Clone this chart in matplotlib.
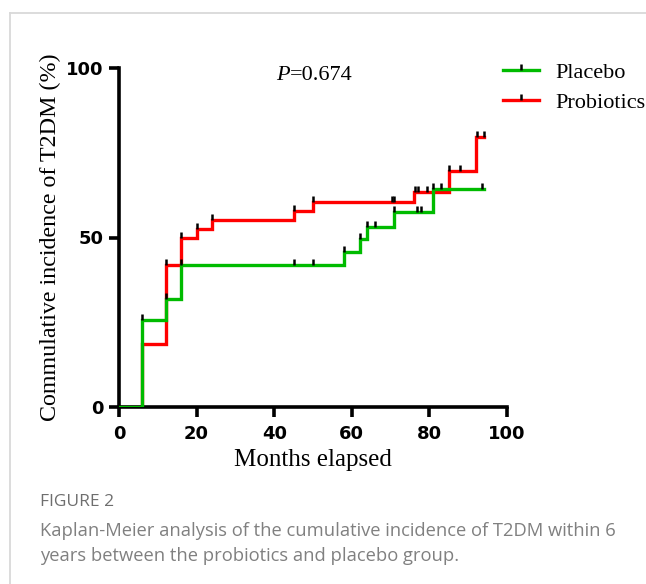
import matplotlib
matplotlib.use("Agg")
import matplotlib.pyplot as plt
from matplotlib.path import Path
from matplotlib.lines import Line2D
from matplotlib.offsetbox import TextArea, HPacker, AnchoredOffsetbox

# ---- data ----
placebo_t = [0, 6, 12, 16, 58, 62, 64, 71, 81, 94]
placebo_y = [0, 25.7, 32.0, 42.0, 45.6, 49.5, 53.0, 57.4, 64.3, 64.3]
probio_t = [0, 6, 12, 16, 20, 24, 45, 50, 76, 85, 92, 94]
probio_y = [0, 18.5, 41.9, 49.8, 52.4, 55.2, 57.8, 60.6, 63.5, 69.7, 79.5, 79.5]

placebo_cens_t = [6, 12, 16, 45, 50, 58, 62, 64, 66, 71, 76.7, 77.8, 81, 83, 93.5]
placebo_cens_y = [25.7, 32.0, 42.0, 42.0, 42.0, 45.6, 49.5, 53.0, 53.0, 57.4, 57.4, 57.4, 64.3, 64.3, 64.3]
probio_cens_t = [12, 16, 20, 24, 45, 50, 70.3, 71, 76.3, 77, 79.3, 85, 88, 92.2, 94]
probio_cens_y = [41.9, 49.8, 52.4, 55.2, 57.8, 60.6, 60.6, 60.6, 63.5, 63.5, 63.5, 69.7, 69.7, 79.5, 79.5]

x_ticks = [0, 20, 40, 60, 80, 100]
y_ticks = [0, 50, 100]
series_names = ["Placebo", "Probiotics"]
p_label = "P"
p_text = "=0.674"

GREEN = "#00bb00"
RED = "#ff0000"

fig = plt.figure(figsize=(6.46, 5.84), dpi=100)

# figure frame (light gray)
fig.add_artist(Line2D([10/646, 10/646], [0, 1 - 13/584], transform=fig.transFigure,
                      color="#d9d9d9", lw=1.3))
fig.add_artist(Line2D([10/646, 1], [1 - 13/584, 1 - 13/584], transform=fig.transFigure,
                      color="#d9d9d9", lw=1.3))

ax = fig.add_axes([119/646, 1 - 407/584, 388/646, 339/584])

tick_marker = Path([(0, 0), (0, 1)], [Path.MOVETO, Path.LINETO])

ax.step(placebo_t, placebo_y, where="post", color=GREEN, lw=2.4, zorder=3,
        solid_joinstyle="miter")
ax.step(probio_t, probio_y, where="post", color=RED, lw=2.4, zorder=2,
        solid_joinstyle="miter")
ax.plot(placebo_cens_t, placebo_cens_y, ls="none", marker=tick_marker, ms=9,
        mew=1.8, color="black", zorder=4)
ax.plot(probio_cens_t, probio_cens_y, ls="none", marker=tick_marker, ms=9,
        mew=1.8, color="black", zorder=4)

ax.set_xlim(0, 100)
ax.set_ylim(0, 100)
ax.set_xticks(x_ticks)
ax.set_yticks(y_ticks)
for s in ["top", "right"]:
    ax.spines[s].set_visible(False)
for s in ["left", "bottom"]:
    ax.spines[s].set_linewidth(2.6)
    ax.spines[s].set_capstyle("projecting")
ax.tick_params(axis="both", direction="out", length=7, width=2.6, pad=4)
ax.tick_params(axis="x", pad=6)
for lab in ax.get_xticklabels() + ax.get_yticklabels():
    lab.set_fontfamily("DejaVu Sans")
    lab.set_fontweight("bold")
    lab.set_fontsize(13)

ax.set_xlabel("Months elapsed", fontfamily="Liberation Serif", fontsize=18, labelpad=4)
ax.set_ylabel("Commulative incidence of T2DM (%)", fontfamily="Liberation Serif",
              fontsize=17.3, labelpad=4)

# P value text: italic P + regular rest
ta1 = TextArea(p_label, textprops=dict(fontfamily="Liberation Serif", fontstyle="italic", fontsize=16))
ta2 = TextArea(p_text, textprops=dict(fontfamily="Liberation Serif", fontsize=16))
pack = HPacker(children=[ta1, ta2], align="baseline", pad=0, sep=0)
ab = AnchoredOffsetbox(loc="center", child=pack, frameon=False,
                       bbox_to_anchor=(314/646, 1 - 76/584), bbox_transform=fig.transFigure,
                       borderpad=0, pad=0)
fig.add_artist(ab)

handles = [
    Line2D([], [], color=GREEN, lw=2.4, marker=tick_marker, ms=9, mew=1.8, mec="black"),
    Line2D([], [], color=RED, lw=2.4, marker=tick_marker, ms=9, mew=1.8, mec="black"),
]
leg = fig.legend(handles, series_names, loc="upper left",
                 bbox_to_anchor=(492/646, 1 - 51/584), frameon=False,
                 prop=dict(family="Liberation Serif", size=16), handlelength=1.6,
                 handletextpad=0.75, labelspacing=0.45, numpoints=1, borderpad=0)

fig.text(40/646, 1 - 502/584, "FIGURE 2", fontfamily="Open Sans", fontsize=12.5,
         color="#6e6e6e", va="center", ha="left")
fig.text(40/646, 1 - 531/584,
         "Kaplan-Meier analysis of the cumulative incidence of T2DM within 6",
         fontfamily="Open Sans", fontsize=13.2, color="#808080", va="center", ha="left")
fig.text(40/646, 1 - 556/584, "years between the probiotics and placebo group.",
         fontfamily="Open Sans", fontsize=13.2, color="#808080", va="center", ha="left")

fig.savefig("out.png", dpi=100)
